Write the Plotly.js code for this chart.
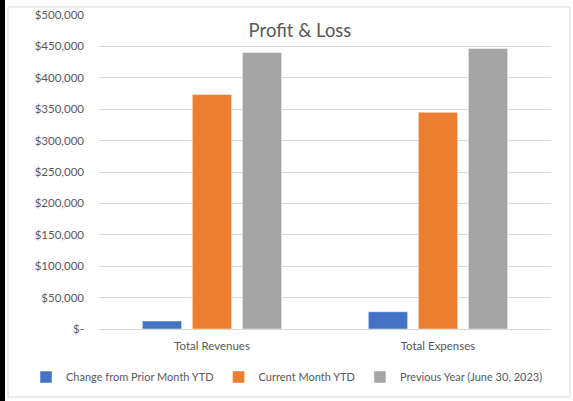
<!DOCTYPE html>
<html>
<head>
<meta charset="utf-8">
<script src="https://cdn.plot.ly/plotly-3.0.1.min.js"></script>
<style>
html,body{margin:0;padding:0;background:#fff;}
#chart{width:573px;height:401px;}
</style>
</head>
<body>
<div id="chart"></div>
<script>
const categories = ["Total Revenues", "Total Expenses"];
const seriesNames = ["Change from Prior Month YTD", "Current Month YTD", "Previous Year (June 30, 2023)"];
const changeFromPrior = [12700, 27500];
const currentMonth = [373300, 345000];
const previousYear = [440400, 446800];
const tickValues = [0, 50000, 100000, 150000, 200000, 250000, 300000, 350000, 400000, 450000, 500000];
const tickLabels = ["$-", "$50,000", "$100,000", "$150,000", "$200,000", "$250,000", "$300,000", "$350,000", "$400,000", "$450,000", "$500,000"];
const colors = ["#4472C4", "#ED7D31", "#A5A5A5"];

const W = 573, H = 401, MT = 15, MB = 72;
const PH = H - MT - MB;
const px = v => v / W;
const py = v => (H - MB - v) / PH;

const seriesValues = [changeFromPrior, currentMonth, previousYear];
const traces = seriesValues.map((vals, i) => ({
  type: "bar",
  name: seriesNames[i],
  x: categories,
  y: vals,
  marker: {color: colors[i], line: {color: "rgba(255,255,255,0.6)", width: 0.8}},
  hoverinfo: "skip"
}));

const font = {family: "Lato, 'Noto Sans', sans-serif", color: "#595959", size: 11.5};

const layout = {
  width: W, height: H,
  margin: {l: 0, r: 0, t: MT, b: MB, pad: 0},
  paper_bgcolor: "#fff",
  plot_bgcolor: "#fff",
  barmode: "group",
  bargap: 0.336,
  bargroupgap: 0.214,
  font: font,
  title: {
    text: "Profit & Loss",
    font: {family: font.family, size: 18.5, color: "#595959"},
    x: 300 / W, xanchor: "center",
    y: 1 - 31 / H, yanchor: "middle"
  },
  xaxis: {
    domain: [99 / W, 551 / W],
    type: "category",
    showgrid: false,
    zeroline: false,
    showline: false,
    ticks: "",
    ticklabelstandoff: 8,
    tickfont: font,
    automargin: false,
    fixedrange: true
  },
  yaxis: {
    range: [0, 500000],
    tickvals: tickValues,
    ticktext: tickLabels,
    showgrid: true,
    gridcolor: "#D9D9D9",
    gridwidth: 1,
    zeroline: true,
    zerolinecolor: "#D9D9D9",
    zerolinewidth: 1,
    showline: false,
    ticks: "",
    ticklabelstandoff: 14,
    tickfont: font,
    automargin: false,
    fixedrange: true
  },
  legend: {
    orientation: "h",
    x: 287 / W, xanchor: "center",
    y: py(377), yanchor: "middle",
    font: {family: font.family, color: "#595959", size: 11},
    bgcolor: "rgba(0,0,0,0)",
    itemwidth: 30,
    traceorder: "normal",
    tracegroupgap: 0
  },
  shapes: [
    {type: "rect", xref: "paper", yref: "paper", x0: px(8), x1: px(570), y0: py(7), y1: py(397),
     line: {color: "#D9D9D9", width: 1}, fillcolor: "rgba(0,0,0,0)", layer: "below"},
    {type: "rect", xref: "paper", yref: "paper", x0: px(0), x1: px(5), y0: py(0), y1: py(401),
     line: {width: 0}, fillcolor: "#000"}
  ],
  showlegend: true
};

Plotly.newPlot("chart", traces, layout, {displayModeBar: false, staticPlot: true});
</script>
</body>
</html>
